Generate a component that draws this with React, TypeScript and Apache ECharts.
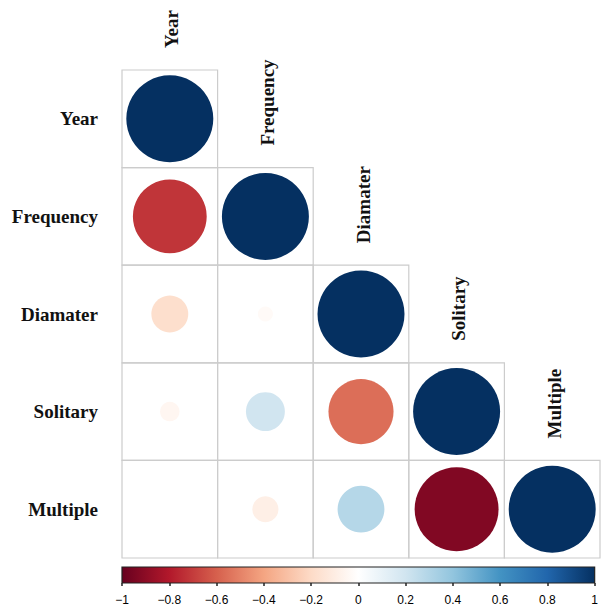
import React, { useEffect, useRef } from "react";
import * as echarts from "echarts";

const variables = ["Year", "Frequency", "Diamater", "Solitary", "Multiple"];
// lower-triangle correlation rows (row i has i+1 values)
const yearRow = [1];
const frequencyRow = [-0.72, 1];
const diamaterRow = [-0.18, -0.03, 1];
const solitaryRow = [-0.05, 0.2, -0.56, 1];
const multipleRow = [0.0, -0.09, 0.29, -0.93, 1];
const corrRows = [yearRow, frequencyRow, diamaterRow, solitaryRow, multipleRow];

const colorbarTicks = [-1, -0.8, -0.6, -0.4, -0.2, 0, 0.2, 0.4, 0.6, 0.8, 1];
const rdBu = [
  "#67001F", "#B2182B", "#D6604D", "#F4A582", "#FDDBC7", "#FFFFFF",
  "#D1E5F0", "#92C5DE", "#4393C3", "#2166AC", "#053061",
];

export default function App() {
  const ref = useRef<HTMLDivElement>(null);
  useEffect(() => {
    if (!ref.current) return;
    const chart = echarts.init(ref.current, null, { renderer: "svg" });
    const cellData: number[][] = [];
    corrRows.forEach((row, ri) => row.forEach((v, ci) => cellData.push([ci, ri, v])));

    const gridLeft = 122;
    const gridWidth = 478;

    chart.setOption({
      animation: false,
      backgroundColor: "#ffffff",
      grid: [
        { left: gridLeft, width: gridWidth, top: 70, height: 488 },
        { left: gridLeft, width: gridWidth, top: 567, height: 16 },
      ],
      xAxis: [
        { type: "category", gridIndex: 0, data: variables, show: false },
        {
          type: "value", gridIndex: 1, min: -1, max: 1, interval: 0.2,
          axisLine: { show: false }, splitLine: { show: false },
          axisTick: { show: true, length: 3, lineStyle: { color: "#222", width: 1.5 } },
          axisLabel: {
            margin: 11, fontSize: 12, color: "#000", fontFamily: "Liberation Sans",
            showMinLabel: true, showMaxLabel: true,
            formatter: (v: number) => {
              const r = Math.round(v * 10) / 10;
              if (!colorbarTicks.includes(r)) return "";
              return r < 0 ? "\u2212" + String(-r) : String(r);
            },
          },
        },
      ],
      yAxis: [
        {
          type: "category", gridIndex: 0, data: variables, inverse: true,
          axisLine: { show: false }, axisTick: { show: false }, splitLine: { show: false },
          axisLabel: {
            margin: 24, fontSize: 19, fontWeight: "bold", color: "#111",
            fontFamily: "Liberation Serif",
          },
        },
        { type: "value", gridIndex: 1, min: 0, max: 1, show: false },
      ],
      visualMap: {
        type: "continuous", show: false, min: -1, max: 1, dimension: 2,
        seriesIndex: 0, inRange: { color: rdBu },
      },
      series: [
        {
          type: "custom",
          xAxisIndex: 0, yAxisIndex: 0,
          data: cellData,
          renderItem: (params: any, api: any) => {
            const c = api.coord([api.value(0), api.value(1)]);
            const s = api.size([1, 1]);
            const cw = s[0], ch = s[1];
            const v = api.value(2) as number;
            const r = Math.sqrt(Math.abs(v)) * 0.455 * cw;
            const children: any[] = [
              {
                type: "rect",
                shape: { x: c[0] - cw / 2, y: c[1] - ch / 2, width: cw, height: ch },
                style: { fill: "none", stroke: "#cccccc", lineWidth: 1.2 },
              },
              {
                type: "circle",
                shape: { cx: c[0], cy: c[1], r },
                style: { fill: api.visual("color") },
              },
            ];
            if (api.value(0) === api.value(1)) {
              children.push({
                type: "text",
                x: c[0] + 2,
                y: c[1] - ch / 2 - 22,
                rotation: Math.PI / 2,
                style: {
                  text: variables[api.value(0) as number],
                  fontSize: 19, fontWeight: "bold", fontFamily: "Liberation Serif",
                  fill: "#111", align: "left", verticalAlign: "middle",
                },
              });
            }
            return { type: "group", children };
          },
        },
        {
          type: "custom",
          xAxisIndex: 1, yAxisIndex: 1,
          data: [[0, 0]],
          renderItem: (params: any, api: any) => {
            const p0 = api.coord([-1, 1]);
            const p1 = api.coord([1, 0]);
            const stops = rdBu.map((col, i) => ({ offset: i / (rdBu.length - 1), color: col }));
            return {
              type: "rect",
              shape: { x: p0[0], y: p0[1], width: p1[0] - p0[0], height: p1[1] - p0[1] },
              style: {
                fill: new echarts.graphic.LinearGradient(0, 0, 1, 0, stops),
                stroke: "#222", lineWidth: 1.2,
              },
            };
          },
        },
      ],
    });
    return () => chart.dispose();
  }, []);
  return (
    <div
      ref={ref}
      style={{ position: "fixed", left: 0, top: 0, width: 601, height: 606 }}
    />
  );
}
